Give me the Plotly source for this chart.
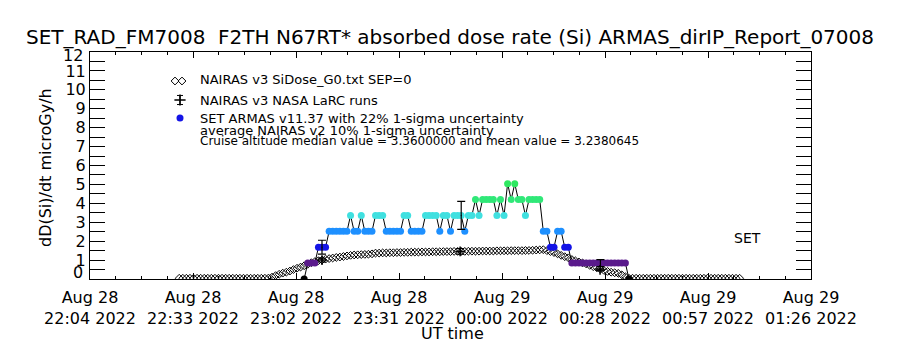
import plotly.graph_objects as go

# ---------------- data ----------------
TITLE = "SET_RAD_FM7008  F2TH N67RT* absorbed dose rate (Si) ARMAS_dirIP_Report_07008"
TICK_LABELS = ["Aug 28<br>22:04 2022", "Aug 28<br>22:33 2022", "Aug 28<br>23:02 2022",
               "Aug 28<br>23:31 2022", "Aug 29<br>00:00 2022", "Aug 29<br>00:28 2022",
               "Aug 29<br>00:57 2022", "Aug 29<br>01:26 2022"]
X_SPAN_MIN = 202.0          # minutes from first to last tick (22:04 -> 01:26)
Y_MAX = 12

# NAIRAS v3 SiDose_G0 (1-minute cadence, minutes after 22:04)
NAIRAS_T0 = 25
NAIRAS_DOSE = ([0.04] * 25 +
    [0.05, 0.10, 0.18, 0.25, 0.31, 0.36, 0.42, 0.50, 0.57, 0.63,
     0.70, 0.78, 0.86, 0.92, 0.97, 1.00, 1.05, 1.08, 1.11, 1.14,
     1.16, 1.19, 1.22, 1.25, 1.27, 1.28, 1.29, 1.30, 1.31, 1.33,
     1.37, 1.37, 1.38, 1.38, 1.39, 1.39, 1.40, 1.40, 1.41, 1.41,
     1.42, 1.42, 1.42, 1.43, 1.43, 1.43, 1.44, 1.44, 1.44, 1.45,
     1.45, 1.45, 1.46, 1.46, 1.46, 1.46, 1.47, 1.47, 1.47, 1.47,
     1.48, 1.48, 1.48, 1.48, 1.49, 1.49, 1.49, 1.49, 1.50, 1.50,
     1.50, 1.50, 1.51, 1.51, 1.52, 1.53, 1.54, 1.55, 1.50, 1.45,
     1.40, 1.33, 1.25, 1.18, 1.12, 1.03, 0.96, 0.90, 0.85, 0.80,
     0.72, 0.65, 0.60, 0.52, 0.45, 0.40, 0.36, 0.33, 0.30, 0.22,
     0.12] +
    [0.04] * 32)

# NAIRAS v3 NASA LaRC runs
LARC_T = [65.0, 103.7, 142.9]
LARC_DOSE = [1.00, 1.46, 0.48]
LARC_ERR = [0.10, 0.15, 0.05]

# SET ARMAS v11.37 (1-minute cadence)
ARMAS_T0 = 60
ARMAS_DOSE = ([0.0] + [0.84] * 3 + [1.68] * 3 + [2.52] * 6 + [3.36] + [2.52] * 2 + [3.36] +
              [2.52] * 3 + [3.36] * 3 + [2.52] * 5 + [3.36] * 2 + [2.52] * 4 + [3.36] * 4 +
              [2.52] + [3.36] * 2 + [2.52] + [3.36] * 3 + [2.52] + [3.36] * 2 + [4.20] +
              [3.36] + [4.20] * 4 + [3.36] + [4.20] + [3.36] + [5.04] + [4.20] + [5.04] +
              [4.20] * 2 + [3.36] + [4.20] * 4 + [2.52] * 2 + [1.68] * 2 + [2.52] * 2 +
              [1.68] * 2 + [0.84] * 16 + [0.0])
ARMAS_ERR_T = [65, 104, 143]
ARMAS_ERR_FRAC = 0.22

LEGEND_NAMES = ["NAIRAS v3 SiDose_G0.txt SEP=0", "NAIRAS v3 NASA LaRC runs",
                "SET ARMAS v11.37 with 22% 1-sigma uncertainty"]
NOTE_LINES = ["average NAIRAS v2 10% 1-sigma uncertainty",
              "Cruise altitude median value = 3.3600000 and mean value = 3.2380645"]

# ---------------- styles ----------------
FONT = "DejaVu Sans"
LEVEL_COLORS = {0.0: "#000000", 0.84: "#5a1a8c", 1.68: "#1414e6", 2.52: "#1e90ff",
                3.36: "#40e0e0", 4.20: "#30e878", 5.04: "#2ee860"}

# plot-area pixel geometry
L, R, T, B = 90, 89, 52, 71
W, H = 900, 350
pw, ph = W - L - R, H - T - B


def px_x(px):
    return (px - L) / pw


def px_y(py):
    return (H - B - py) / ph


nairas_t = [NAIRAS_T0 + i for i in range(len(NAIRAS_DOSE))]
armas_t = [ARMAS_T0 + i for i in range(len(ARMAS_DOSE))]
armas_colors = [LEVEL_COLORS[v] for v in ARMAS_DOSE]
err_vals = [ARMAS_DOSE[t - ARMAS_T0] for t in ARMAS_ERR_T]

fig = go.Figure()

fig.add_trace(go.Scatter(x=nairas_t, y=NAIRAS_DOSE, mode="markers", showlegend=False,
                         marker=dict(symbol="diamond-open", size=6, color="black",
                                     line=dict(width=1, color="black"))))
fig.add_trace(go.Scatter(x=armas_t, y=ARMAS_DOSE, mode="lines+markers", showlegend=False,
                         line=dict(color="black", width=1),
                         marker=dict(symbol="circle", size=7, color=armas_colors)))
fig.add_trace(go.Scatter(x=ARMAS_ERR_T, y=err_vals, mode="markers", showlegend=False,
                         marker=dict(size=1, color="black"),
                         error_y=dict(type="data", array=[v * ARMAS_ERR_FRAC for v in err_vals],
                                      color="black", thickness=1.2, width=4)))
fig.add_trace(go.Scatter(x=LARC_T, y=LARC_DOSE, mode="markers", showlegend=False,
                         marker=dict(symbol="cross-thin", size=7, color="black",
                                     line=dict(width=1.5, color="black")),
                         error_y=dict(type="data", array=LARC_ERR, color="black",
                                      thickness=1.2, width=4)))

# legend symbols on an overlay axis covering the plot area (0..1)
fig.add_trace(go.Scatter(x=[px_x(175), px_x(182)], y=[px_y(81), px_y(81)], mode="markers",
                         xaxis="x2", yaxis="y2", showlegend=False, cliponaxis=False,
                         marker=dict(symbol="diamond-open", size=6, color="black",
                                     line=dict(width=1, color="black"))))
fig.add_trace(go.Scatter(x=[px_x(180)], y=[px_y(100)], mode="markers",
                         xaxis="x2", yaxis="y2", showlegend=False, cliponaxis=False,
                         marker=dict(symbol="cross-thin", size=8, color="black",
                                     line=dict(width=1.5, color="black")),
                         error_y=dict(type="constant", value=0.02, color="black",
                                      thickness=1, width=3)))
fig.add_trace(go.Scatter(x=[px_x(180)], y=[px_y(118)], mode="markers",
                         xaxis="x2", yaxis="y2", showlegend=False, cliponaxis=False,
                         marker=dict(symbol="circle", size=7, color="#1414e6")))

tickvals_x = [X_SPAN_MIN * k / (len(TICK_LABELS) - 1) for k in range(len(TICK_LABELS))]
minor_x = [X_SPAN_MIN * k / ((len(TICK_LABELS) - 1) * 4) for k in range((len(TICK_LABELS) - 1) * 4 + 1)]
ytv = [k * 0.5 for k in range(2 * Y_MAX + 1)]
ytt = [str(int(v)) if (v == int(v) and 0 < v < Y_MAX) else "" for v in ytv]

fig.update_layout(
    width=W, height=H, margin=dict(l=L, r=R, t=T, b=B),
    paper_bgcolor="white", plot_bgcolor="white",
    font=dict(family=FONT, color="black", size=16),
    showlegend=False,
    title=dict(text=TITLE, x=0.5, xanchor="center", y=1 - 37 / H, yanchor="middle",
               font=dict(size=20)),
    xaxis=dict(range=[0, X_SPAN_MIN], showgrid=False, zeroline=False, showline=True,
               linecolor="black", linewidth=1, mirror="allticks", ticks="inside",
               ticklen=6, tickcolor="black", tickvals=tickvals_x, ticktext=TICK_LABELS,
               tickfont=dict(size=16), ticklabelstandoff=4,
               minor=dict(tickvals=minor_x, ticks="inside", ticklen=3, tickcolor="black",
                          showgrid=False)),
    yaxis=dict(range=[0, Y_MAX], showgrid=False, zeroline=False, showline=True,
               linecolor="black", linewidth=1, mirror="allticks", ticks="inside",
               ticklen=15, tickcolor="black", tickvals=ytv, ticktext=ytt,
               tickfont=dict(size=16)),
    xaxis2=dict(overlaying="x", range=[0, 1], visible=False, fixedrange=True),
    yaxis2=dict(overlaying="y", range=[0, 1], visible=False, fixedrange=True),
)

# edge y labels, nudged inside like the reference
fig.add_annotation(text="0", xref="paper", yref="paper", x=px_x(85), y=px_y(272),
                   showarrow=False, xanchor="right", yanchor="middle", font=dict(size=16))
fig.add_annotation(text=str(Y_MAX), xref="paper", yref="paper", x=px_x(85), y=px_y(55),
                   showarrow=False, xanchor="right", yanchor="middle", font=dict(size=16))

fig.add_annotation(text="dD(Si)/dt microGy/h", xref="paper", yref="paper",
                   x=px_x(45), y=px_y(168), textangle=-90, showarrow=False,
                   xanchor="center", yanchor="middle", font=dict(size=16))
fig.add_annotation(text="UT time", xref="paper", yref="paper",
                   x=px_x(452), y=px_y(333), showarrow=False,
                   xanchor="center", yanchor="middle", font=dict(size=16))
for name, py in zip(LEGEND_NAMES, [80, 100, 118]):
    fig.add_annotation(text=name, xref="paper", yref="paper", x=px_x(198), y=px_y(py),
                       showarrow=False, xanchor="left", yanchor="middle", font=dict(size=13))
fig.add_annotation(text=NOTE_LINES[0], xref="paper", yref="paper", x=px_x(198), y=px_y(130),
                   showarrow=False, xanchor="left", yanchor="middle", font=dict(size=13))
fig.add_annotation(text=NOTE_LINES[1], xref="paper", yref="paper", x=px_x(198), y=px_y(141),
                   showarrow=False, xanchor="left", yanchor="middle", font=dict(size=12))
fig.add_annotation(text="SET", xref="paper", yref="paper", x=px_x(747), y=px_y(238),
                   showarrow=False, xanchor="center", yanchor="middle", font=dict(size=14))

fig.write_html("out.html")
